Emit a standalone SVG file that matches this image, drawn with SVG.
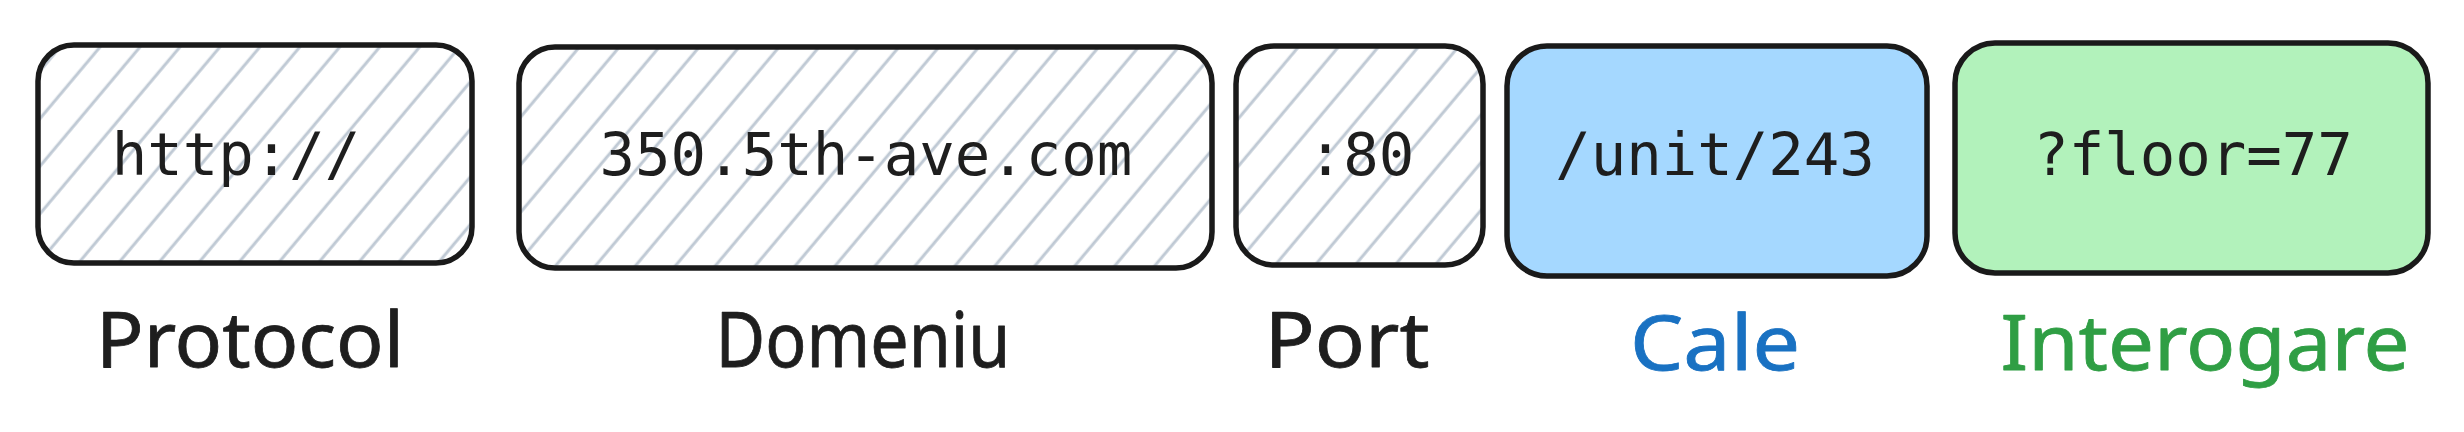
<svg xmlns="http://www.w3.org/2000/svg" width="2464" height="432" viewBox="0 0 2464 432">
<defs>
<pattern id="hatch" patternUnits="userSpaceOnUse" width="30.6" height="20" patternTransform="rotate(40)">
<line x1="15" y1="-2" x2="15" y2="22" stroke="#bfc9d4" stroke-width="3"/>
</pattern>
</defs>
<style>
.box{stroke:#1a1a1a;stroke-width:5.5;stroke-linejoin:round}
.hatch{fill:url(#hatch)}
.code{font-family:"DejaVu Sans Mono","Liberation Mono",monospace;font-size:59px;fill:#1e1e1e;text-anchor:middle}
.lbl{font-family:"Noto Sans","DejaVu Sans",sans-serif;font-size:76px;text-anchor:middle;stroke-width:0.8;stroke-linejoin:round}
</style>
<rect width="2464" height="432" fill="#ffffff"/>
<g id="protocol">
<rect class="box hatch" x="38" y="45" width="434" height="218" rx="36"/>
<text class="code" x="236" y="175">http://</text>
<text class="lbl" x="250" y="367" fill="#1e1e1e" stroke="#1e1e1e" textLength="308" lengthAdjust="spacingAndGlyphs">Protocol</text>
</g>
<g id="domeniu">
<rect class="box hatch" x="519" y="47" width="693" height="221" rx="36"/>
<text class="code" x="866" y="175">350.5th-ave.com</text>
<text class="lbl" x="863" y="367" fill="#1e1e1e" stroke="#1e1e1e" textLength="295" lengthAdjust="spacingAndGlyphs">Domeniu</text>
</g>
<g id="port">
<rect class="box hatch" x="1236" y="46" width="247" height="219" rx="38"/>
<text class="code" x="1361" y="175">:80</text>
<text class="lbl" x="1347" y="367" fill="#1e1e1e" stroke="#1e1e1e" textLength="165" lengthAdjust="spacingAndGlyphs">Port</text>
</g>
<g id="cale">
<rect class="box" x="1507" y="46" width="420" height="230" rx="40" fill="#a5d8ff"/>
<text class="code" x="1715" y="175">/unit/243</text>
<text class="lbl" x="1715" y="370" fill="#1971c2" stroke="#1971c2" textLength="170" lengthAdjust="spacingAndGlyphs">Cale</text>
</g>
<g id="interogare">
<rect class="box" x="1955" y="43" width="473" height="230" rx="40" fill="#b2f2bb"/>
<text class="code" x="2193" y="175">?floor=77</text>
<text class="lbl" x="2205" y="370" fill="#2f9e44" stroke="#2f9e44" textLength="409" lengthAdjust="spacingAndGlyphs">Interogare</text>
</g>
<g id="connectors"></g>
</svg>
